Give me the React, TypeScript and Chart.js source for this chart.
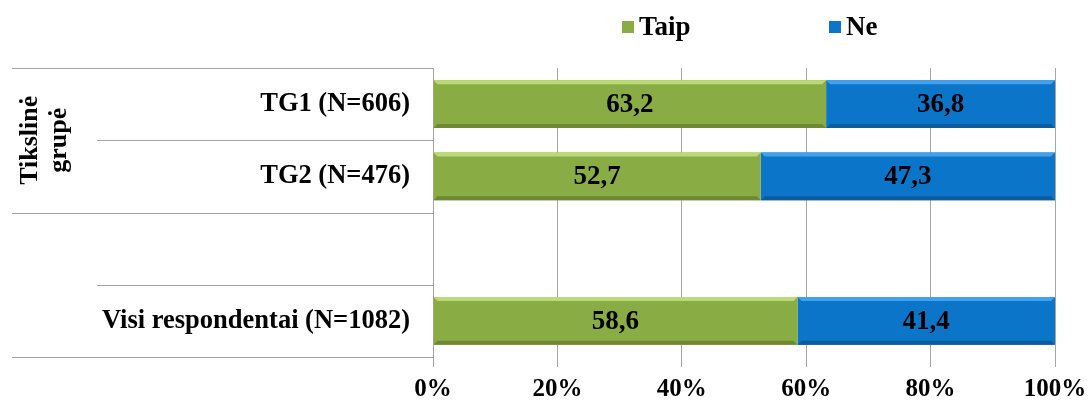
import { useEffect, useRef } from 'react';
import { Chart, registerables } from 'chart.js';

Chart.register(...registerables);

const categories = ['TG1 (N=606)', 'TG2 (N=476)', '', 'Visi respondentai (N=1082)'];
const seriesNames = ['Taip', 'Ne'];
const taipValues = [63.2, 52.7, null, 58.6];
const neValues = [36.8, 47.3, null, 41.4];
const seriesColors = ['#8aac45', '#0b76c9'];
const seriesLight = ['#bcd977', '#43a0ea'];
const seriesDark = ['#6d8a31', '#0a5c9e'];
const xTickValues = [0, 20, 40, 60, 80, 100];
const groupLabel = ['Tikslinė', 'grupė'];
const groupRows = [0, 1];

const FONT = '"Liberation Serif", "Times New Roman", serif';

const overlayPlugin = {
  id: 'overlay',
  afterDatasetsDraw(chart: any) {
    const { ctx } = chart;
    ctx.save();
    chart.data.datasets.forEach((ds: any, di: number) => {
      const meta = chart.getDatasetMeta(di);
      meta.data.forEach((bar: any, idx: number) => {
        if (ds.data[idx] == null) return;
        const x0 = Math.min(bar.x, bar.base);
        const x1 = Math.max(bar.x, bar.base);
        const top = bar.y - bar.height / 2;
        const bot = bar.y + bar.height / 2;
        const b = 4;
        ctx.fillStyle = seriesLight[di];
        ctx.beginPath();
        ctx.moveTo(x0, top);
        ctx.lineTo(x1, top);
        ctx.lineTo(x1 - b, top + b);
        ctx.lineTo(x0 + b, top + b);
        ctx.closePath();
        ctx.fill();
        ctx.fillStyle = seriesDark[di];
        ctx.beginPath();
        ctx.moveTo(x0, bot);
        ctx.lineTo(x1, bot);
        ctx.lineTo(x1 - b, bot - b);
        ctx.lineTo(x0 + b, bot - b);
        ctx.closePath();
        ctx.fill();
      });
    });
    ctx.restore();
  },
  afterDraw(chart: any) {
    const { ctx, chartArea } = chart;
    const yScale = chart.scales.y;
    const n = categories.length;
    ctx.save();
    // left separator lines
    ctx.strokeStyle = '#a6a6a6';
    ctx.lineWidth = 1;
    for (let i = 0; i <= n; i++) {
      const y = Math.round(yScale.getPixelForValue(i - 0.5)) + 0.5;
      const inner = i > 0 && i < n && (i % 2 === 1);
      const x0 = inner ? 97 : 12;
      ctx.beginPath();
      ctx.moveTo(x0, y);
      ctx.lineTo(chartArea.left, y);
      ctx.stroke();
    }
    // group label
    const gy = (yScale.getPixelForValue(groupRows[0]) + yScale.getPixelForValue(groupRows[1])) / 2;
    ctx.fillStyle = '#000';
    ctx.font = `bold 26px ${FONT}`;
    ctx.textAlign = 'center';
    ctx.textBaseline = 'alphabetic';
    const baselines = [37, 66];
    groupLabel.forEach((t, i) => {
      ctx.save();
      ctx.translate(baselines[i], gy);
      ctx.rotate(-Math.PI / 2);
      ctx.fillText(t, 0, 0);
      ctx.restore();
    });
    // data labels
    ctx.font = `bold 27px ${FONT}`;
    ctx.textBaseline = 'middle';
    ctx.textAlign = 'center';
    chart.data.datasets.forEach((ds: any, di: number) => {
      const meta = chart.getDatasetMeta(di);
      meta.data.forEach((bar: any, idx: number) => {
        const v = ds.data[idx];
        if (v == null) return;
        const cx = (bar.x + bar.base) / 2;
        ctx.fillText(v.toFixed(1).replace('.', ','), cx, bar.y + 1);
      });
    });
    // legend
    ctx.font = `bold 27px ${FONT}`;
    ctx.textAlign = 'left';
    ctx.textBaseline = 'middle';
    const legendX = [622, 829];
    seriesNames.forEach((name, i) => {
      const x = legendX[i];
      ctx.fillStyle = seriesColors[i];
      ctx.fillRect(x, 21, 12, 12);
      ctx.fillStyle = '#000';
      ctx.fillText(name, x + 17, 28);
    });
    ctx.restore();
  },
};

export default function App() {
  const ref = useRef<HTMLCanvasElement>(null);
  useEffect(() => {
    document.body.style.margin = '0';
    const chart = new Chart(ref.current!, {
      type: 'bar',
      data: {
        labels: categories,
        datasets: [
          { label: seriesNames[0], data: taipValues as any, backgroundColor: seriesColors[0], barPercentage: 0.66, categoryPercentage: 1 },
          { label: seriesNames[1], data: neValues as any, backgroundColor: seriesColors[1], barPercentage: 0.66, categoryPercentage: 1 },
        ],
      },
      options: {
        indexAxis: 'y',
        animation: false,
        responsive: false,
        events: [],
        layout: { padding: { top: 68, right: 33, left: 0, bottom: 0 } },
        plugins: { legend: { display: false }, tooltip: { enabled: false } },
        scales: {
          x: {
            stacked: true,
            min: 0,
            max: 100,
            afterBuildTicks(scale: any) {
              scale.ticks = xTickValues.map((v) => ({ value: v }));
            },
            afterFit(scale: any) {
              scale.height = 44;
              scale.paddingLeft = 0;
              scale.paddingRight = 0;
            },
            grid: { color: '#a6a6a6', tickLength: 10, drawTicks: true },
            border: { display: false },
            ticks: {
              color: '#000',
              font: { family: FONT, size: 25, weight: 'bold' },
              padding: 8,
              callback: (v: any) => v + '%',
            },
          },
          y: {
            stacked: true,
            afterFit(scale: any) {
              scale.width = 433;
              scale.paddingTop = 0;
              scale.paddingBottom = 0;
            },
            grid: { display: false },
            border: { display: true, color: '#a6a6a6' },
            ticks: {
              color: '#000',
              font: { family: FONT, size: 26.5, weight: 'bold' },
              padding: 15,
            },
          },
        },
      },
      plugins: [overlayPlugin],
    });
    return () => chart.destroy();
  }, []);
  return (
    <div style={{ width: 1088, height: 401 }}>
      <canvas ref={ref} width={1088} height={401} style={{ display: 'block' }} />
    </div>
  );
}
